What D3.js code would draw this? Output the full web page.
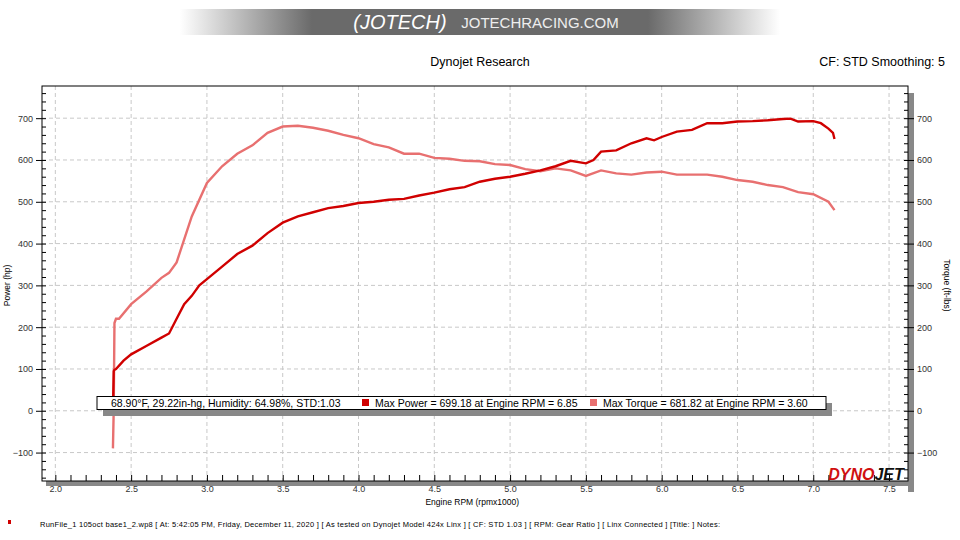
<!DOCTYPE html>
<html><head><meta charset="utf-8">
<script src="https://cdn.jsdelivr.net/npm/d3@7"></script>
<style>body{margin:0;background:#fff}text{font-family:"Liberation Sans",Arial,sans-serif}</style>
</head><body><svg id="c" width="960" height="540"></svg>
<script>
const rpmTicks=[2.0,2.5,3.0,3.5,4.0,4.5,5.0,5.5,6.0,6.5,7.0,7.5];
const yTicks=[-100,0,100,200,300,400,500,600,700];
const powerRpm=[2.38,2.385,2.39,2.40,2.45,2.5,2.6,2.7,2.75,2.8,2.85,2.9,2.95,3.0,3.1,3.2,3.3,3.4,3.5,3.6,3.7,3.8,3.9,4.0,4.1,4.2,4.3,4.4,4.5,4.6,4.7,4.8,4.9,5.0,5.1,5.2,5.3,5.4,5.5,5.55,5.6,5.7,5.8,5.9,5.95,6.0,6.1,6.2,6.3,6.4,6.5,6.6,6.7,6.8,6.85,6.9,7.0,7.05,7.1,7.13,7.14];
const powerHp=[0,95,98,100,120,135,155,175,185,220,255,275,300,315,345,375,395,425,450,465,475,485,490,497,500,505,507,515,522,530,535,548,555,560,567,575,585,598,592,600,620,623,640,652,647,655,668,672,688,688,692,693,695,698,699,692,693,688,675,665,650];
const torqueRpm=[2.38,2.385,2.39,2.40,2.42,2.5,2.6,2.7,2.75,2.8,2.85,2.9,3.0,3.1,3.2,3.3,3.4,3.5,3.6,3.7,3.8,3.9,4.0,4.1,4.2,4.3,4.4,4.5,4.6,4.7,4.8,4.9,5.0,5.1,5.2,5.3,5.4,5.5,5.6,5.7,5.8,5.9,6.0,6.1,6.2,6.3,6.4,6.5,6.6,6.7,6.8,6.9,7.0,7.1,7.14];
const torqueFtlb=[-90,0,210,220,220,255,285,318,330,355,410,465,545,585,615,635,665,680,682,677,670,660,652,638,630,615,615,605,603,598,597,590,588,578,573,580,575,562,575,568,565,570,572,565,565,565,560,552,548,540,535,523,518,500,480];
const legendItems=["Max Power = 699.18 at Engine RPM = 6.85","Max Torque = 681.82 at Engine RPM = 3.60"];
const colors=["#d00000","#e87070"];

const svg=d3.select("#c");
const L=42,R=908,T=86,B=481;
const x=d3.scaleLinear().domain([1.912,7.625]).range([L,R]);
const y=d3.scaleLinear().domain([-168,777]).range([B,T]);

const g=svg.append("defs").append("linearGradient").attr("id","bn");
[[0,"#fff"],[0.22,"#6a6a6a"],[0.78,"#6a6a6a"],[1,"#fff"]].forEach(s=>g.append("stop").attr("offset",s[0]).attr("stop-color",s[1]));
svg.append("rect").attr("x",180).attr("y",9).attr("width",600).attr("height",26).attr("fill","url(#bn)");
svg.append("text").attr("x",400).attr("y",29).attr("text-anchor","middle").attr("fill","#fff").attr("font-size",20).attr("font-style","italic").text("(JOTECH)");
svg.append("text").attr("x",540).attr("y",28).attr("text-anchor","middle").attr("fill","#eee").attr("font-size",15).text("JOTECHRACING.COM");
svg.append("text").attr("x",480).attr("y",66).attr("text-anchor","middle").attr("font-size",12.5).text("Dynojet Research");
svg.append("text").attr("x",945).attr("y",66).attr("text-anchor","end").attr("font-size",12.5).text("CF: STD Smoothing: 5");

svg.append("rect").attr("x",L+4).attr("y",B).attr("width",R-L+2).attr("height",5).attr("fill","#888");
svg.append("rect").attr("x",R).attr("y",T+7).attr("width",6).attr("height",B-T+4).attr("fill","#888");

svg.append("g").selectAll("line").data(rpmTicks).join("line").attr("x1",d=>x(d)).attr("x2",d=>x(d)).attr("y1",T).attr("y2",B).attr("stroke","#c8c8c8").attr("stroke-dasharray","4,3");
svg.append("g").selectAll("line").data(yTicks).join("line").attr("x1",L).attr("x2",R).attr("y1",d=>y(d)).attr("y2",d=>y(d)).attr("stroke","#c8c8c8").attr("stroke-dasharray","4,3");
svg.append("rect").attr("x",L).attr("y",T).attr("width",R-L).attr("height",B-T).attr("fill","none").attr("stroke","#000");

const minorY=d3.range(-160,780,20), minorX=d3.range(20,76).map(d=>d/10);
const ax=svg.append("g").attr("transform",`translate(0,${B})`).call(d3.axisBottom(x).tickValues(minorX).tickSize(-6).tickFormat(""));
ax.select(".domain").remove();
const axl=svg.append("g").attr("transform",`translate(0,${B+2})`).call(d3.axisBottom(x).tickValues(rpmTicks).tickSize(0).tickFormat(d3.format(".1f")));
axl.select(".domain").remove();axl.selectAll("text").attr("font-size",9).attr("fill","#333");
const ayl=svg.append("g").attr("transform",`translate(${L},0)`).call(d3.axisLeft(y).tickValues(minorY).tickSize(-4).tickFormat(""));ayl.select(".domain").remove();
const ayL=svg.append("g").attr("transform",`translate(${L},0)`).call(d3.axisLeft(y).tickValues(yTicks).tickSize(6).tickFormat(d3.format("d")));
ayL.select(".domain").remove();ayL.selectAll("text").attr("font-size",9).attr("fill","#333");
const ayr=svg.append("g").attr("transform",`translate(${R},0)`).call(d3.axisRight(y).tickValues(minorY).tickSize(-4).tickFormat(""));ayr.select(".domain").remove();
const ayR=svg.append("g").attr("transform",`translate(${R},0)`).call(d3.axisRight(y).tickValues(yTicks).tickSize(6).tickFormat(d3.format("d")));
ayR.select(".domain").remove();ayR.selectAll("text").attr("font-size",9).attr("fill","#333");
svg.append("text").attr("transform",`translate(10,${y(300)}) rotate(-90)`).attr("text-anchor","middle").attr("font-size",8.5).text("Power (hp)");
svg.append("text").attr("transform",`translate(944,${y(300)}) rotate(90)`).attr("text-anchor","middle").attr("font-size",8.5).text("Torque (ft-lbs)");
svg.append("text").attr("x",x(4.75)).attr("y",505).attr("text-anchor","middle").attr("font-size",8.5).text("Engine RPM (rpmx1000)");

const tor=torqueRpm.map((r,i)=>[r,torqueFtlb[i]]);
const pow=powerRpm.map((r,i)=>[r,powerHp[i]]);
const line2=d3.line().x(d=>x(d[0])).y(d=>y(d[1]));
svg.append("path").attr("d",line2(tor)).attr("fill","none").attr("stroke",colors[1]).attr("stroke-width",2.4);
svg.append("path").attr("d",line2(pow)).attr("fill","none").attr("stroke",colors[0]).attr("stroke-width",2.4);

svg.append("rect").attr("x",103).attr("y",403).attr("width",729).attr("height",13).attr("fill","#888");
svg.append("rect").attr("x",97).attr("y",396.5).attr("width",729).attr("height",13).attr("fill","#fff").attr("stroke","#000");
svg.append("text").attr("x",111).attr("y",407).attr("font-size",10.5).text("68.90°F, 29.22in-hg, Humidity: 64.98%, STD:1.03");
[[362,375],[590,603]].forEach((p,i)=>{
 svg.append("rect").attr("x",p[0]).attr("y",399).attr("width",7).attr("height",7).attr("fill",colors[i]);
 svg.append("text").attr("x",p[1]).attr("y",407).attr("font-size",10.5).text(legendItems[i]);
});

svg.append("text").attr("x",866).attr("y",480).attr("text-anchor","middle").attr("font-size",16).attr("font-weight","bold").attr("font-style","italic").attr("fill","#d01010").text("DYNO").append("tspan").attr("fill","#111").text("JET");

svg.append("rect").attr("x",8).attr("y",520).attr("width",3).attr("height",4).attr("fill","#d00000");
svg.append("text").attr("x",40).attr("y",527).attr("font-size",7.5).attr("textLength",680).text("RunFile_1 105oct base1_2.wp8  [ At: 5:42:05 PM, Friday, December 11, 2020 ]  [ As tested on Dynojet Model 424x Linx ]  [ CF: STD 1.03 ]  [ RPM: Gear Ratio ]  [ Linx Connected ]  [Title:  ]   Notes:");
</script></body></html>
